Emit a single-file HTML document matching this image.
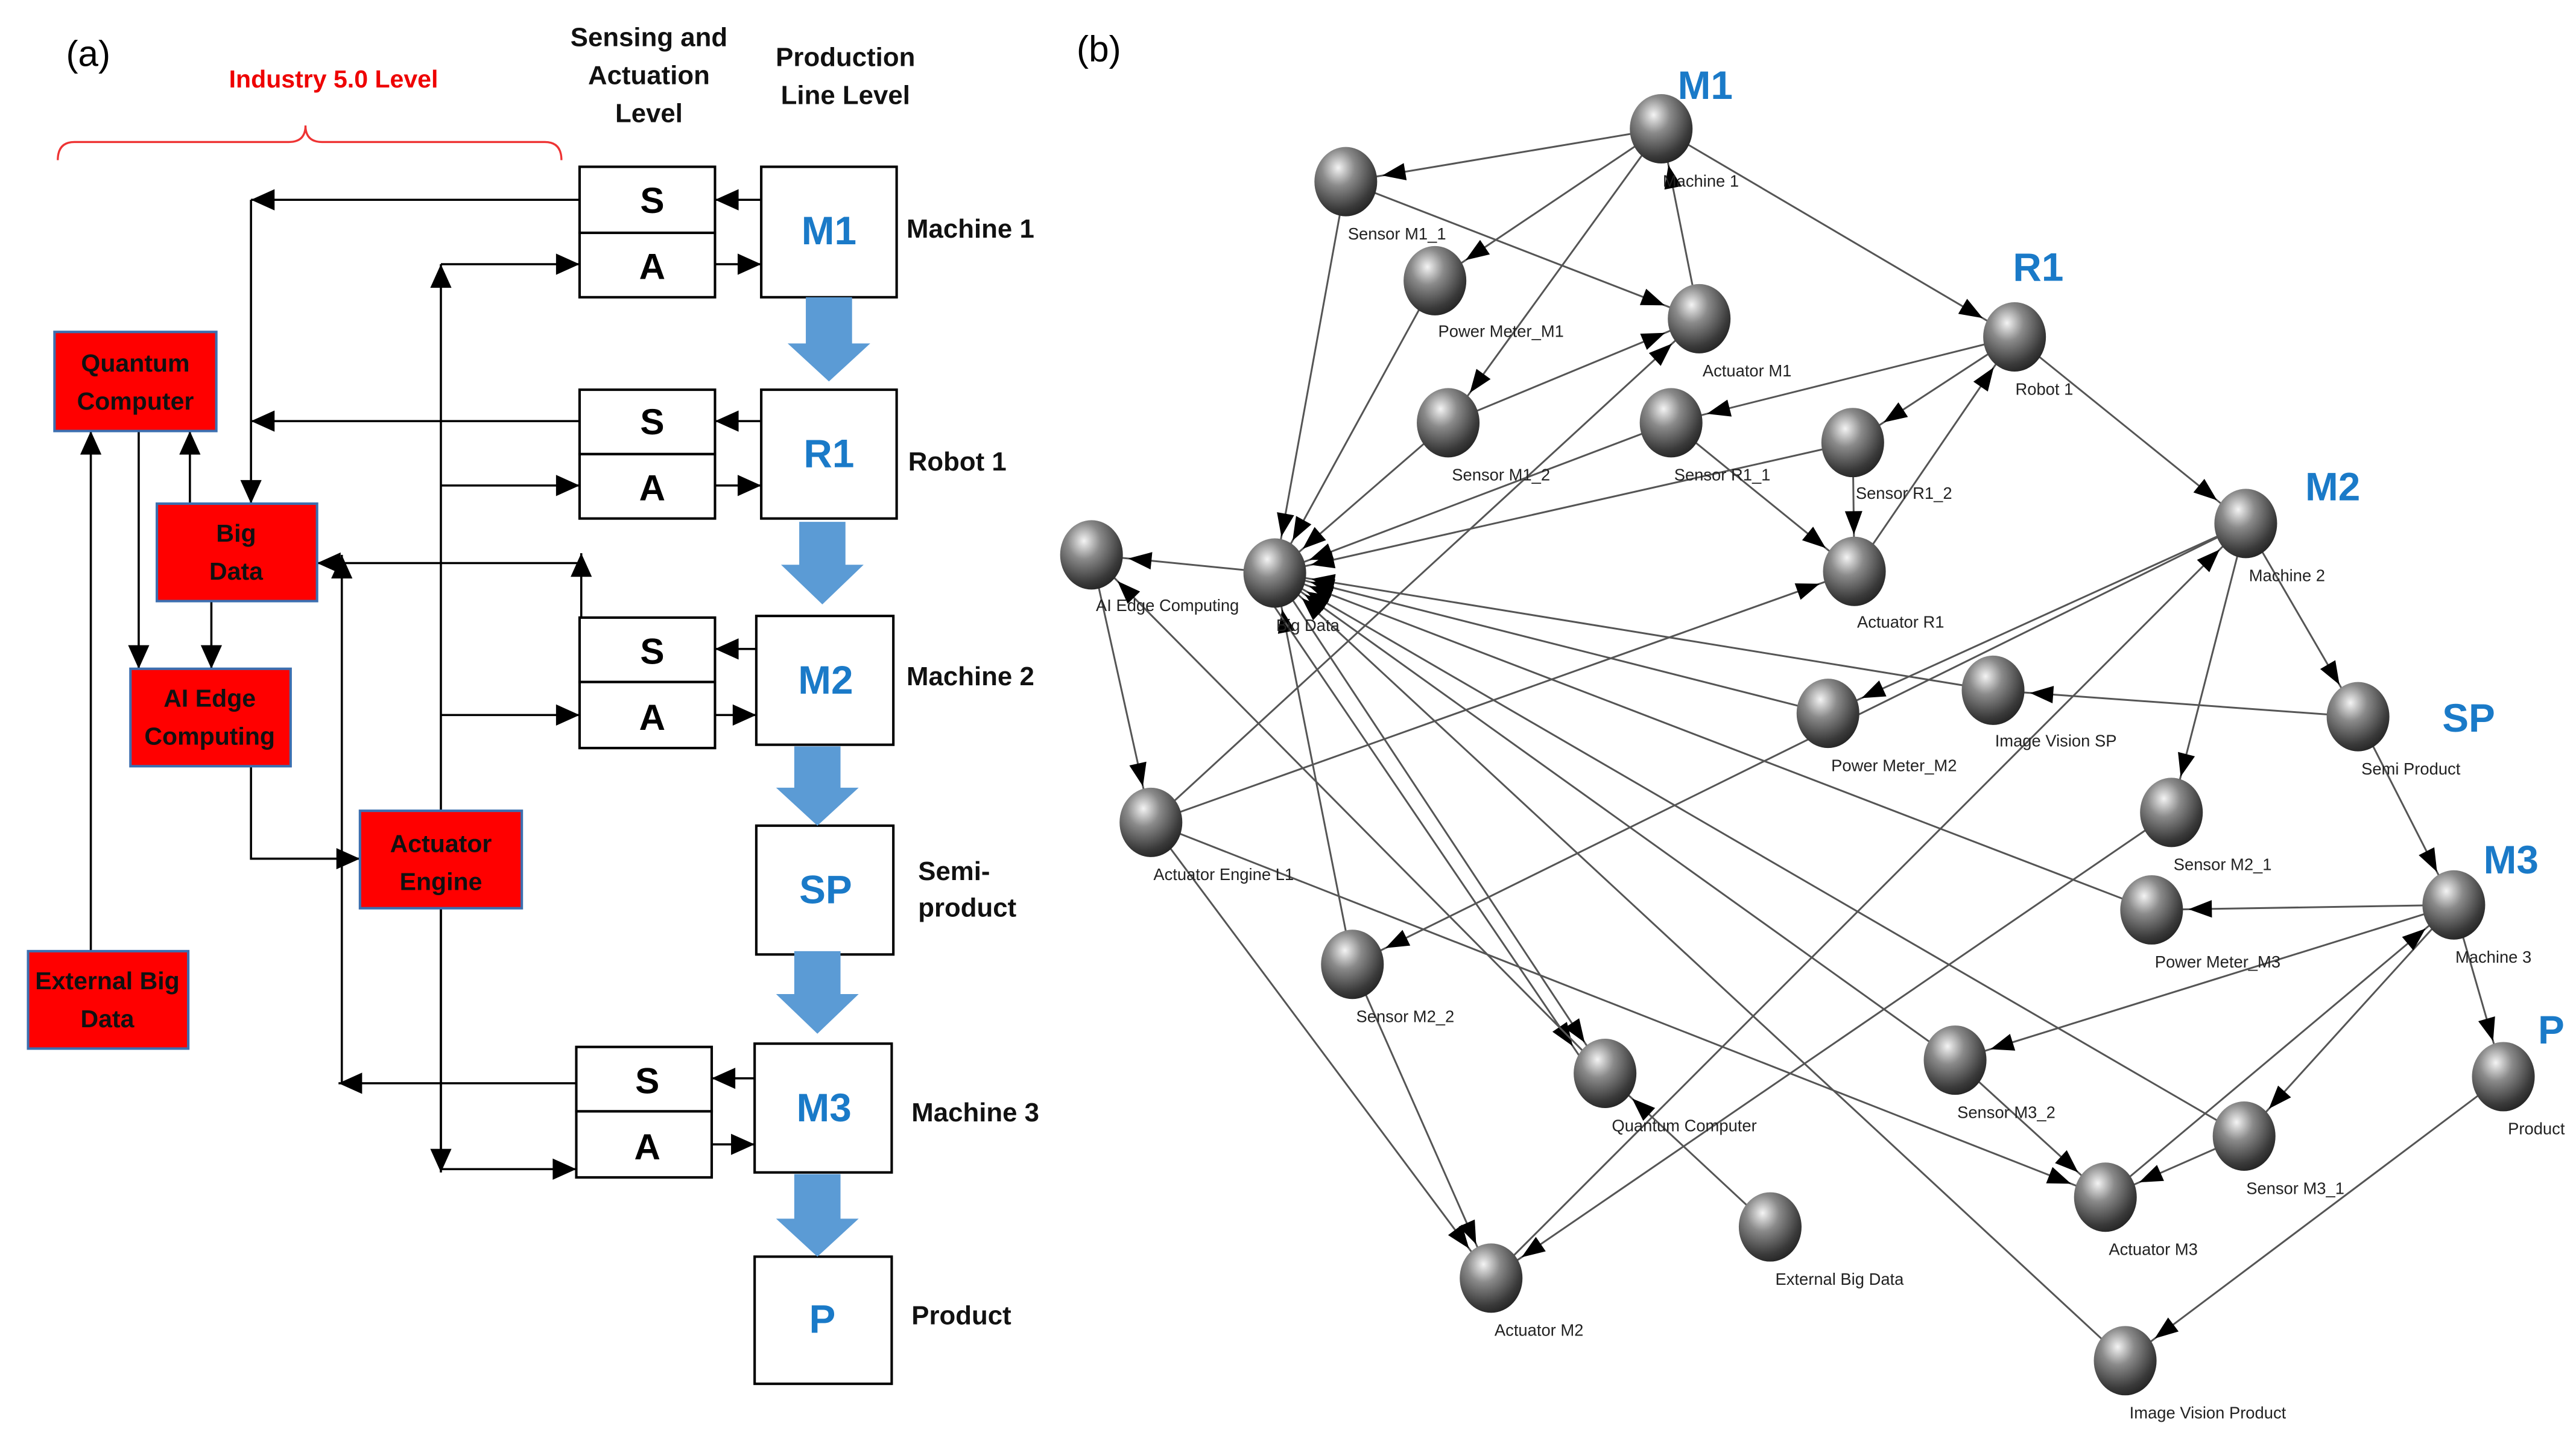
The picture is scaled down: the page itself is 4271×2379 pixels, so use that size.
<!DOCTYPE html>
<html><head><meta charset="utf-8"><style>
html,body{margin:0;padding:0;background:#fff}
svg{display:block}
text{font-family:"Liberation Sans",sans-serif}
</style></head><body>
<svg width="4271" height="2379" viewBox="0 0 1560 869" preserveAspectRatio="none" xmlns="http://www.w3.org/2000/svg">
<defs>
<marker id="a" markerUnits="userSpaceOnUse" markerWidth="20" markerHeight="20" viewBox="-2 -6 14 12" refX="10" refY="0" orient="auto" overflow="visible"><path d="M0,-4.5L10,0L0,4.5z" fill="#000"/></marker>
<marker id="n" markerUnits="userSpaceOnUse" markerWidth="40" markerHeight="20" viewBox="-2 -6 34 12" refX="31" refY="0" orient="auto" overflow="visible"><path d="M0,-4.5L12,0L0,4.5z" fill="#000"/></marker>
<radialGradient id="g" cx="0.38" cy="0.3" r="0.75"><stop offset="0" stop-color="#f4f4f4"/><stop offset="0.35" stop-color="#8a8a8a"/><stop offset="0.8" stop-color="#3a3a3a"/><stop offset="1" stop-color="#222"/></radialGradient>
</defs>

<!-- PANEL A -->
<text x="40" y="40" font-size="22" font-family="Liberation Sans">(a)</text>
<text x="202" y="53" font-size="15" fill="#e00" text-anchor="middle" font-weight="bold">Industry 5.0 Level</text>
<path d="M35,97 Q35,86 45,86 L175,86 Q185,86 185,76 Q185,86 195,86 L330,86 Q340,86 340,97" fill="none" stroke="#e33" stroke-width="1.2"/>
<g font-size="16" text-anchor="middle" font-weight="bold" fill="#111">
<text x="393" y="28">Sensing and</text><text x="393" y="51">Actuation</text><text x="393" y="74">Level</text>
<text x="512" y="40">Production</text><text x="512" y="63">Line Level</text>
</g>

<g stroke="#000" stroke-width="1.3" fill="none">
<!-- connectors -->
<path d="M351,121H152" marker-end="url(#a)"/>
<path d="M152,121V305" marker-end="url(#a)"/>
<path d="M351,255H152" marker-end="url(#a)"/>
<path d="M352,374V335" marker-end="url(#a)"/>
<path d="M352,341H192" marker-end="url(#a)"/>
<path d="M349,656H205" marker-end="url(#a)"/>
<path d="M207,656V336" marker-end="url(#a)"/>
<path d="M267,708V160" marker-end="url(#a)"/>
<path d="M267,160H351" marker-end="url(#a)"/>
<path d="M267,294H351" marker-end="url(#a)"/>
<path d="M267,433H351" marker-end="url(#a)"/>
<path d="M267,708H349" marker-end="url(#a)"/>
<path d="M267,550V710" marker-end="url(#a)"/>
<path d="M55,576V261" marker-end="url(#a)"/>
<path d="M84,261V405" marker-end="url(#a)"/>
<path d="M115,305V261" marker-end="url(#a)"/>
<path d="M128,364V405" marker-end="url(#a)"/>
<path d="M152,464V520H218" marker-end="url(#a)"/>
<!-- S/A <-> M -->
<path d="M461,121H433" marker-end="url(#a)"/><path d="M433,160H461" marker-end="url(#a)"/>
<path d="M461,255H433" marker-end="url(#a)"/><path d="M433,294H461" marker-end="url(#a)"/>
<path d="M458,393H433" marker-end="url(#a)"/><path d="M433,433H458" marker-end="url(#a)"/>
<path d="M457,653H431" marker-end="url(#a)"/><path d="M431,693H457" marker-end="url(#a)"/>
</g>

<g stroke="#000" stroke-width="1.5" fill="#fff">
<rect x="351" y="101" width="82" height="40"/><rect x="351" y="141" width="82" height="39"/>
<rect x="461" y="101" width="82" height="79"/>
<rect x="351" y="236" width="82" height="39"/><rect x="351" y="275" width="82" height="39"/>
<rect x="461" y="236" width="82" height="78"/>
<rect x="351" y="374" width="82" height="39"/><rect x="351" y="413" width="82" height="40"/>
<rect x="458" y="373" width="83" height="78"/>
<rect x="458" y="500" width="83" height="78"/>
<rect x="349" y="634" width="82" height="39"/><rect x="349" y="673" width="82" height="40"/>
<rect x="457" y="632" width="83" height="78"/>
<rect x="457" y="761" width="83" height="77"/>
</g>
<g font-size="22" font-weight="bold" text-anchor="middle">
<text x="395" y="129">S</text><text x="395" y="169">A</text>
<text x="395" y="263">S</text><text x="395" y="303">A</text>
<text x="395" y="402">S</text><text x="395" y="442">A</text>
<text x="392" y="662">S</text><text x="392" y="702">A</text>
</g>
<g font-size="24" font-weight="bold" fill="#1a7ac8" text-anchor="middle">
<text x="502" y="148">M1</text><text x="502" y="283">R1</text><text x="500" y="420">M2</text>
<text x="500" y="547">SP</text><text x="499" y="679">M3</text><text x="498" y="807">P</text>
</g>
<g font-size="16" font-weight="bold" fill="#111">
<text x="549" y="144">Machine 1</text><text x="550" y="285">Robot 1</text><text x="549" y="415">Machine 2</text>
<text x="556" y="533">Semi-</text><text x="556" y="555">product</text>
<text x="552" y="679">Machine 3</text><text x="552" y="802">Product</text>
</g>
<g fill="#5b9bd5">
<path d="M488,180H516V208H527L502,231L477,208H488z"/>
<path d="M484,316H512V342H523L498,366L473,342H484z"/>
<path d="M481,452H509V477H520L495,500L470,477H481z"/>
<path d="M481,576H509V602H520L495,626L470,602H481z"/>
<path d="M481,711H509V738H520L495,761L470,738H481z"/>
</g>
<g fill="#f00" stroke="#3c6fb0" stroke-width="1.5">
<rect x="33" y="201" width="98" height="60"/>
<rect x="95" y="305" width="97" height="59"/>
<rect x="79" y="405" width="97" height="59"/>
<rect x="218" y="491" width="98" height="59"/>
<rect x="17" y="576" width="97" height="59"/>
</g>
<g font-size="15" text-anchor="middle" fill="#111" font-weight="bold">
<text x="82" y="225">Quantum</text><text x="82" y="248">Computer</text>
<text x="143" y="328">Big</text><text x="143" y="351">Data</text>
<text x="127" y="428">AI Edge</text><text x="127" y="451">Computing</text>
<text x="267" y="516">Actuator</text><text x="267" y="539">Engine</text>
<text x="65" y="599">External Big</text><text x="65" y="622">Data</text>
</g>

<!-- PANEL B -->
<text x="652" y="37" font-size="22">(b)</text>
<g stroke="#555" stroke-width="1.1" marker-end="url(#n)">
<line x1="1006" y1="78" x2="815" y2="110"/>
<line x1="1006" y1="78" x2="869" y2="170"/>
<line x1="1006" y1="78" x2="877" y2="256"/>
<line x1="1006" y1="78" x2="1220" y2="204"/>
<line x1="1029" y1="193" x2="1006" y2="78"/>
<line x1="815" y1="110" x2="1029" y2="193"/>
<line x1="815" y1="110" x2="772" y2="347"/>
<line x1="869" y1="170" x2="772" y2="347"/>
<line x1="877" y1="256" x2="1029" y2="193"/>
<line x1="877" y1="256" x2="772" y2="347"/>
<line x1="1220" y1="204" x2="1012" y2="256"/>
<line x1="1220" y1="204" x2="1122" y2="268"/>
<line x1="1220" y1="204" x2="1360" y2="317"/>
<line x1="1123" y1="346" x2="1220" y2="204"/>
<line x1="1012" y1="256" x2="1123" y2="346"/>
<line x1="1122" y1="268" x2="1123" y2="346"/>
<line x1="1012" y1="256" x2="772" y2="347"/>
<line x1="1122" y1="268" x2="772" y2="347"/>
<line x1="772" y1="347" x2="661" y2="336"/>
<line x1="661" y1="336" x2="697" y2="498"/>
<line x1="697" y1="498" x2="1029" y2="193"/>
<line x1="697" y1="498" x2="1123" y2="346"/>
<line x1="697" y1="498" x2="903" y2="774"/>
<line x1="697" y1="498" x2="1275" y2="725"/>
<line x1="1360" y1="317" x2="1107" y2="432"/>
<line x1="1360" y1="317" x2="1315" y2="492"/>
<line x1="1360" y1="317" x2="1428" y2="434"/>
<line x1="1360" y1="317" x2="819" y2="584"/>
<line x1="903" y1="774" x2="1360" y2="317"/>
<line x1="1107" y1="432" x2="772" y2="347"/>
<line x1="1207" y1="418" x2="772" y2="347"/>
<line x1="1303" y1="551" x2="772" y2="347"/>
<line x1="1359" y1="688" x2="772" y2="347"/>
<line x1="1184" y1="642" x2="772" y2="347"/>
<line x1="1287" y1="824" x2="772" y2="347"/>
<line x1="819" y1="584" x2="772" y2="347"/>
<line x1="772" y1="347" x2="972" y2="650"/>
<line x1="760" y1="350" x2="965" y2="652"/>
<line x1="1428" y1="434" x2="1207" y2="418"/>
<line x1="1428" y1="434" x2="1486" y2="548"/>
<line x1="1486" y1="548" x2="1303" y2="551"/>
<line x1="1486" y1="548" x2="1184" y2="642"/>
<line x1="1486" y1="548" x2="1359" y2="688"/>
<line x1="1486" y1="548" x2="1516" y2="652"/>
<line x1="1275" y1="725" x2="1486" y2="548"/>
<line x1="1315" y1="492" x2="903" y2="774"/>
<line x1="819" y1="584" x2="903" y2="774"/>
<line x1="1184" y1="642" x2="1275" y2="725"/>
<line x1="1359" y1="688" x2="1275" y2="725"/>
<line x1="1516" y1="652" x2="1287" y2="824"/>
<line x1="1072" y1="743" x2="972" y2="650"/>
<line x1="972" y1="650" x2="661" y2="336"/>
</g>
<g fill="url(#g)">
<ellipse cx="1006" cy="78" rx="19" ry="21"/><ellipse cx="815" cy="110" rx="19" ry="21"/>
<ellipse cx="869" cy="170" rx="19" ry="21"/><ellipse cx="1029" cy="193" rx="19" ry="21"/>
<ellipse cx="1220" cy="204" rx="19" ry="21"/><ellipse cx="877" cy="256" rx="19" ry="21"/>
<ellipse cx="1012" cy="256" rx="19" ry="21"/><ellipse cx="1122" cy="268" rx="19" ry="21"/>
<ellipse cx="661" cy="336" rx="19" ry="21"/><ellipse cx="772" cy="347" rx="19" ry="21"/>
<ellipse cx="1123" cy="346" rx="19" ry="21"/><ellipse cx="1360" cy="317" rx="19" ry="21"/>
<ellipse cx="1107" cy="432" rx="19" ry="21"/><ellipse cx="1207" cy="418" rx="19" ry="21"/>
<ellipse cx="1428" cy="434" rx="19" ry="21"/><ellipse cx="697" cy="498" rx="19" ry="21"/>
<ellipse cx="1315" cy="492" rx="19" ry="21"/><ellipse cx="1303" cy="551" rx="19" ry="21"/>
<ellipse cx="1486" cy="548" rx="19" ry="21"/><ellipse cx="819" cy="584" rx="19" ry="21"/>
<ellipse cx="972" cy="650" rx="19" ry="21"/><ellipse cx="1184" cy="642" rx="19" ry="21"/>
<ellipse cx="1359" cy="688" rx="19" ry="21"/><ellipse cx="1516" cy="652" rx="19" ry="21"/>
<ellipse cx="1275" cy="725" rx="19" ry="21"/><ellipse cx="1072" cy="743" rx="19" ry="21"/>
<ellipse cx="903" cy="774" rx="19" ry="21"/><ellipse cx="1287" cy="824" rx="19" ry="21"/>
</g>
<g font-size="10" fill="#222" text-anchor="middle">
<text x="1030" y="113">Machine 1</text><text x="846" y="145">Sensor M1_1</text>
<text x="909" y="204">Power Meter_M1</text><text x="1058" y="228">Actuator M1</text>
<text x="1238" y="239">Robot 1</text><text x="909" y="291">Sensor M1_2</text>
<text x="1043" y="291">Sensor R1_1</text><text x="1153" y="302">Sensor R1_2</text>
<text x="707" y="370">AI Edge Computing</text><text x="792" y="382">Big Data</text>
<text x="1151" y="380">Actuator R1</text><text x="1385" y="352">Machine 2</text>
<text x="1147" y="467">Power Meter_M2</text><text x="1245" y="452">Image Vision SP</text>
<text x="1460" y="469">Semi Product</text><text x="741" y="533">Actuator Engine L1</text>
<text x="1346" y="527">Sensor M2_1</text><text x="1343" y="586">Power Meter_M3</text>
<text x="1510" y="583">Machine 3</text><text x="851" y="619">Sensor M2_2</text>
<text x="1020" y="685">Quantum Computer</text><text x="1215" y="677">Sensor M3_2</text>
<text x="1390" y="723">Sensor M3_1</text><text x="1536" y="687">Product</text>
<text x="1304" y="760">Actuator M3</text><text x="1114" y="778">External Big Data</text>
<text x="932" y="809">Actuator M2</text><text x="1337" y="859">Image Vision Product</text>
</g>
<g font-size="24" font-weight="bold" fill="#1a7ac8">
<text x="1016" y="60">M1</text><text x="1219" y="170">R1</text><text x="1396" y="303">M2</text>
<text x="1479" y="443">SP</text><text x="1504" y="529">M3</text><text x="1537" y="632">P</text>
</g>
</svg>
</body></html>
